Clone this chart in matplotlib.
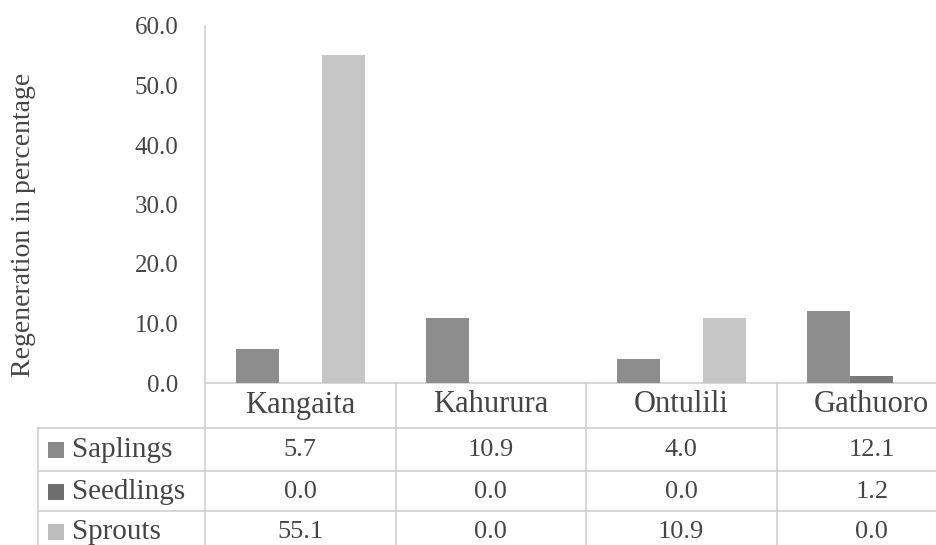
import matplotlib
matplotlib.use("Agg")
import matplotlib.pyplot as plt
from matplotlib.transforms import blended_transform_factory
from matplotlib.patches import Rectangle

# Data
sites = ["Kangaita", "Kahurura", "Ontulili", "Gathuoro"]
series_names = ["Saplings", "Seedlings", "Sprouts"]
saplings = [5.7, 10.9, 4.0, 12.1]
seedlings = [0.0, 0.0, 0.0, 1.2]
sprouts = [55.1, 0.0, 10.9, 0.0]
y_ticks = [0, 10, 20, 30, 40, 50, 60]

series_values = [saplings, seedlings, sprouts]
bar_colors = ["#8d8d8d", "#7a7a7a", "#c6c6c6"]
key_colors = ["#8a8a8a", "#6e6e6e", "#bdbdbd"]
text_color = "#454545"
line_color = "#cfcfcf"

plt.rcParams["font.family"] = ["Liberation Serif", "DejaVu Serif"]

W, H = 936, 545
fig = plt.figure(figsize=(W / 100, H / 100), dpi=100)
fig.patch.set_facecolor("white")

# plot area in pixel geometry
ax_left, ax_right = 205, 967
ax_bottom, ax_top = 383, 26
ax = fig.add_axes([ax_left / W, (H - ax_bottom) / H,
                   (ax_right - ax_left) / W, (ax_bottom - ax_top) / H])

bar_w = 0.225
offsets = [-bar_w, 0.0, bar_w]
for vals, off, col in zip(series_values, offsets, bar_colors):
    ax.bar([i + off for i in range(len(sites))], vals, width=bar_w,
           color=col, edgecolor="none", zorder=3)

ax.set_xlim(-0.5, len(sites) - 0.5)
ax.set_ylim(0, 60)
ax.set_yticks(y_ticks)
ax.set_yticklabels([f"{v:.1f}" for v in y_ticks])
ax.tick_params(axis="y", length=0, pad=19, labelsize=18, labelcolor=text_color)
ax.set_xticks([])
ax.set_ylabel("Regeneration in percentage", fontsize=20, color=text_color)
ax.yaxis.set_label_coords((36 - ax_left) / (ax_right - ax_left),
                          (ax_bottom - 225) / (ax_bottom - ax_top))
for s in ["top", "right"]:
    ax.spines[s].set_visible(False)
ax.spines["left"].set_color(line_color)
ax.spines["bottom"].set_color(line_color)
ax.spines["left"].set_linewidth(1.2)
ax.spines["bottom"].set_linewidth(1.2)

# Data table below the plot
def fy(py):
    return (H - py) / H

tr = blended_transform_factory(ax.transData, fig.transFigure)
row_lines = [428, 471, 511]
row_centers = [450, 492, 532]
header_center = 405

# column dividers and axis extension
for xd in [0.5, 1.5, 2.5]:
    fig.add_artist(plt.Line2D([xd, xd], [fy(383), 0], transform=tr,
                              color=line_color, lw=1.2))
fig.add_artist(plt.Line2D([ax_left / W, ax_left / W], [fy(383), 0],
                          transform=fig.transFigure, color=line_color, lw=1.2))
fig.add_artist(plt.Line2D([38 / W, 38 / W], [fy(428), 0],
                          transform=fig.transFigure, color=line_color, lw=1.2))
for py in row_lines:
    fig.add_artist(plt.Line2D([38 / W, 1], [fy(py), fy(py)],
                              transform=fig.transFigure, color=line_color, lw=1.2))

for i, site in enumerate(sites):
    fig.text(i, fy(header_center), site, transform=tr, ha="center",
             va="center", fontsize=22, color=text_color)
    for vals, cy in zip(series_values, row_centers):
        fig.text(i, fy(cy), f"{vals[i]:.1f}", transform=tr, ha="center",
                 va="center", fontsize=19, color=text_color)

for name, col, cy in zip(series_names, key_colors, row_centers):
    fig.add_artist(Rectangle((48 / W, fy(cy + 8)), 16 / W, 16 / H,
                             transform=fig.transFigure, facecolor=col,
                             edgecolor="none"))
    fig.text(72 / W, fy(cy), name, ha="left", va="center",
             fontsize=21, color=text_color)

fig.savefig("out.png", dpi=100)
